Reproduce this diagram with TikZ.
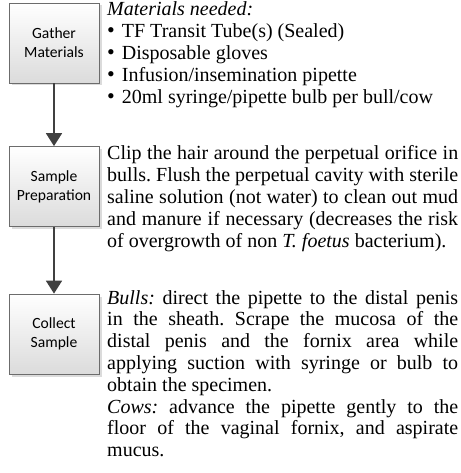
\documentclass[tikz,border=0pt]{standalone}
\usepackage{fontspec}
\setmainfont{Liberation Serif}
\newfontfamily\stepfont{Carlito}
\usetikzlibrary{positioning}
\usetikzlibrary{arrows.meta}
\usetikzlibrary{shadows}

\tikzset{
  stepbox/.style={draw=gray!85!black, line width=0.8pt, shading=axis, top color=white, bottom color=gray!28,
    minimum width=90pt, minimum height=80pt, inner sep=0pt, align=center,
    font=\stepfont\fontsize{15.6}{19}\selectfont,
    drop shadow={shadow xshift=2.5pt, shadow yshift=-2.5pt, fill=gray!35, opacity=0.8}},
  flow/.style={-{Triangle[width=16pt,length=13pt]}, draw=black!75, line width=1.8pt},
  notes/.style={anchor=base west, inner sep=0pt},
}

\newcommand{\notetext}[1]{\parbox[t]{351pt}{\fontsize{20}{21.8}\selectfont\frenchspacing\tolerance=10000\hyphenpenalty=10000 #1}}
\newcommand{\itembullet}{{\fontsize{22}{21.8}\selectfont•}\hspace{7pt}}

\begin{document}
\begin{tikzpicture}[x=1pt,y=-1pt]
\useasboundingbox (0,0) rectangle (460,473);

\node[stepbox] (gather) at (54,43) {Gather\\Materials};
\node[stepbox] (prep) at (54,186.5) {Sample\\Preparation};
\node[stepbox] (collect) at (54,334) {Collect\\Sample};

\draw[flow] (gather) -- (prep);
\draw[flow] (prep) -- (collect);

\node[notes] (materials) at (107,16) {\notetext{\raggedright
\textit{Materials needed:}\\
\itembullet TF Transit Tube(s) (Sealed)\\
\itembullet Disposable gloves\\
\itembullet Infusion/insemination pipette\\
\itembullet 20ml syringe/pipette bulb per bull/cow}};

\node[notes] (prepnote) at (107,160) {\notetext{%
Clip the hair around the perpetual orifice in\linebreak
bulls. Flush the perpetual cavity with sterile\linebreak
saline solution (not water) to clean out mud\linebreak
and manure if necessary (decreases the risk\linebreak
of overgrowth of non \textit{T. foetus} bacterium).}};

\node[notes] (collectnote) at (107,304) {\notetext{%
\textit{Bulls:} direct the pipette to the distal penis\linebreak
in the sheath. Scrape the mucosa of the\linebreak
distal penis and the fornix area while\linebreak
applying suction with syringe or bulb to\linebreak
obtain the specimen.\par
\textit{Cows:} advance the pipette gently to the\linebreak
floor of the vaginal fornix, and aspirate\linebreak
mucus.}};

\end{tikzpicture}
\end{document}
